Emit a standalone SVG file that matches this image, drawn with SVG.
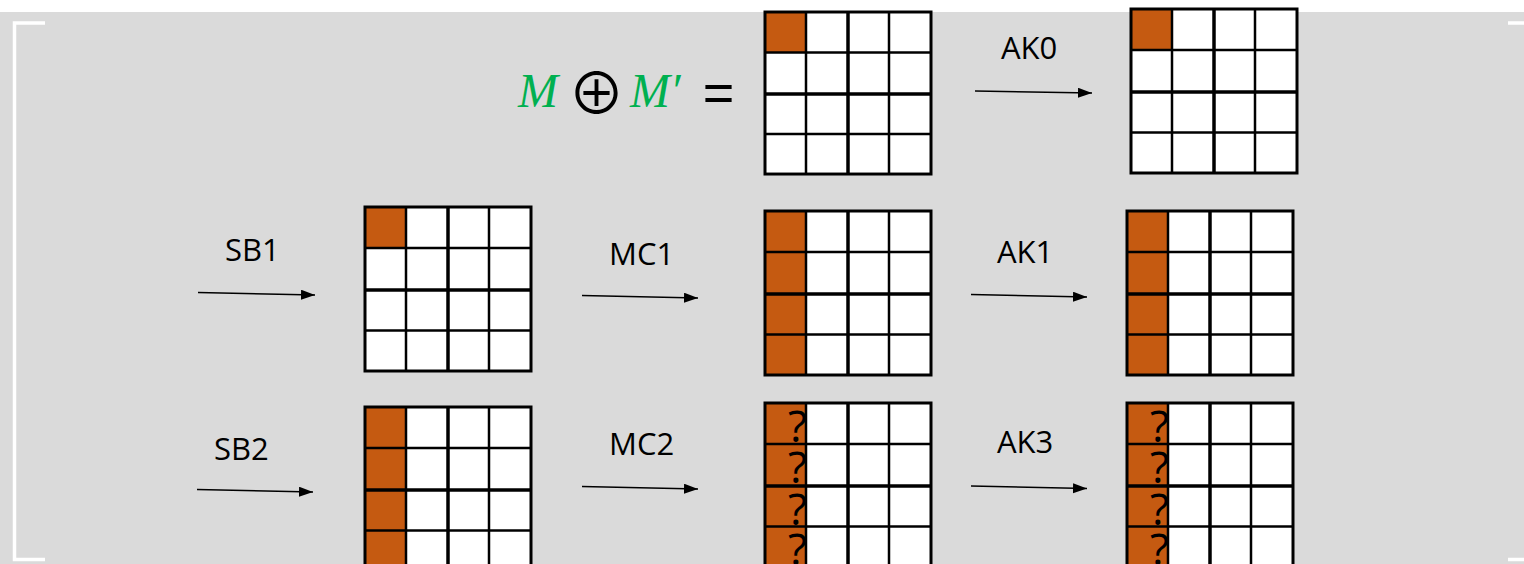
<svg xmlns="http://www.w3.org/2000/svg" xmlns:xlink="http://www.w3.org/1999/xlink" width="1524" height="564" viewBox="0 0 1524 564">
  <style>
    .cell { fill: #ffffff; }
    .org { fill: #C55A11; }
    .gl { stroke: #000; stroke-width: 2.5; fill: none; }
    .gm { stroke: #000; stroke-width: 3.5; fill: none; }
    .go { stroke: #000; stroke-width: 3; fill: none; }
    .lbl { font-family: "Open Sans", "Liberation Sans", sans-serif; font-size: 31px; fill: #000; }
    .q { font-family: "Open Sans", "Liberation Sans", sans-serif; font-size: 44px; fill: #000; text-anchor: end; }
    .arr { stroke: #000; stroke-width: 1.6; fill: none; marker-end: url(#ah); }
    .brk { stroke: #ffffff; stroke-width: 3.5; fill: none; }
    .mv { font-family: "Liberation Serif", serif; font-style: italic; font-size: 48px; fill: #00B050; }
  </style>
  <defs>
    <marker id="ah" markerUnits="userSpaceOnUse" markerWidth="15" markerHeight="11" refX="14" refY="5" orient="auto">
      <path d="M0,0 L14,5 L0,10 z" fill="#000"/>
    </marker>
    <g id="lines">
      <line class="gl" x1="41" y1="0" x2="41" y2="164"/>
      <line class="gm" x1="83" y1="0" x2="83" y2="164"/>
      <line class="gl" x1="124" y1="0" x2="124" y2="164"/>
      <line class="gl" x1="0" y1="41" x2="166" y2="41"/>
      <line class="gm" x1="0" y1="83" x2="166" y2="83"/>
      <line class="gl" x1="0" y1="123.5" x2="166" y2="123.5"/>
      <rect class="go" x="0" y="0" width="166" height="164"/>
    </g>
    <g id="qcol">
      <text class="q" x="42" y="39">?</text>
      <text class="q" x="42" y="80">?</text>
      <text class="q" x="42" y="122">?</text>
      <text class="q" x="42" y="162">?</text>
    </g>
  </defs>

  <rect x="0" y="0" width="1524" height="564" fill="#ffffff"/>
  <rect x="0" y="12" width="1524" height="552" fill="#DADADA"/>

  <g id="brackets">
    <polyline class="brk" points="45,23 14.5,23 14.5,559.5 45,559.5"/>
    <line class="brk" x1="1508" y1="23" x2="1524" y2="23"/>
    <line class="brk" x1="1508" y1="559.5" x2="1524" y2="559.5"/>
  </g>

  <g id="formula">
    <text class="mv" x="518" y="106.5">M</text>
    <text x="596.5" y="114" font-family="Noto Sans CJK SC, DejaVu Sans, sans-serif" font-size="57" text-anchor="middle" fill="#000">⊕</text>
    <text class="mv" x="630" y="106.5">M′</text>
    <text x="718.5" y="111" font-family="Liberation Sans, sans-serif" font-size="54" text-anchor="middle" fill="#000">=</text>
  </g>

  <g id="state0" transform="translate(765,12) scale(1,0.988)">
    <rect class="cell" x="0" y="0" width="166" height="164"/>
    <rect class="org" x="0" y="0" width="41" height="41"/>
    <use xlink:href="#lines"/>
  </g>

  <g id="stateAK0" transform="translate(1131,9)">
    <rect class="cell" x="0" y="0" width="166" height="164"/>
    <rect class="org" x="0" y="0" width="41" height="41"/>
    <use xlink:href="#lines"/>
  </g>

  <g id="stateSB1" transform="translate(365,207)">
    <rect class="cell" x="0" y="0" width="166" height="164"/>
    <rect class="org" x="0" y="0" width="41" height="41"/>
    <use xlink:href="#lines"/>
  </g>

  <g id="stateMC1" transform="translate(765,211)">
    <rect class="cell" x="0" y="0" width="166" height="164"/>
    <rect class="org" x="0" y="0" width="41" height="164"/>
    <use xlink:href="#lines"/>
  </g>

  <g id="stateAK1" transform="translate(1127,211)">
    <rect class="cell" x="0" y="0" width="166" height="164"/>
    <rect class="org" x="0" y="0" width="41" height="164"/>
    <use xlink:href="#lines"/>
  </g>

  <g id="stateSB2" transform="translate(365,407)">
    <rect class="cell" x="0" y="0" width="166" height="164"/>
    <rect class="org" x="0" y="0" width="41" height="164"/>
    <use xlink:href="#lines"/>
  </g>

  <g id="stateMC2" transform="translate(765,403)">
    <rect class="cell" x="0" y="0" width="166" height="164"/>
    <rect class="org" x="0" y="0" width="41" height="164"/>
    <use xlink:href="#qcol"/>
    <use xlink:href="#lines"/>
  </g>

  <g id="stateAK3" transform="translate(1127,403)">
    <rect class="cell" x="0" y="0" width="166" height="164"/>
    <rect class="org" x="0" y="0" width="41" height="164"/>
    <use xlink:href="#qcol"/>
    <use xlink:href="#lines"/>
  </g>

  <g id="connectors">
    <line class="arr" x1="975" y1="91" x2="1092" y2="93"/>
    <line class="arr" x1="198" y1="292.5" x2="315" y2="295"/>
    <line class="arr" x1="582" y1="295.5" x2="698" y2="298"/>
    <line class="arr" x1="971" y1="294.5" x2="1087" y2="297"/>
    <line class="arr" x1="197" y1="489.5" x2="313" y2="492"/>
    <line class="arr" x1="582" y1="486.5" x2="698" y2="489"/>
    <line class="arr" x1="971" y1="486" x2="1087" y2="488.5"/>
  </g>

  <g id="labels">
    <text class="lbl" x="1001" y="59">AK0</text>
    <text class="lbl" x="225" y="261">SB1</text>
    <text class="lbl" x="609" y="265">MC1</text>
    <text class="lbl" x="997" y="263">AK1</text>
    <text class="lbl" x="214" y="460">SB2</text>
    <text class="lbl" x="609" y="455">MC2</text>
    <text class="lbl" x="997" y="453">AK3</text>
  </g>
</svg>
